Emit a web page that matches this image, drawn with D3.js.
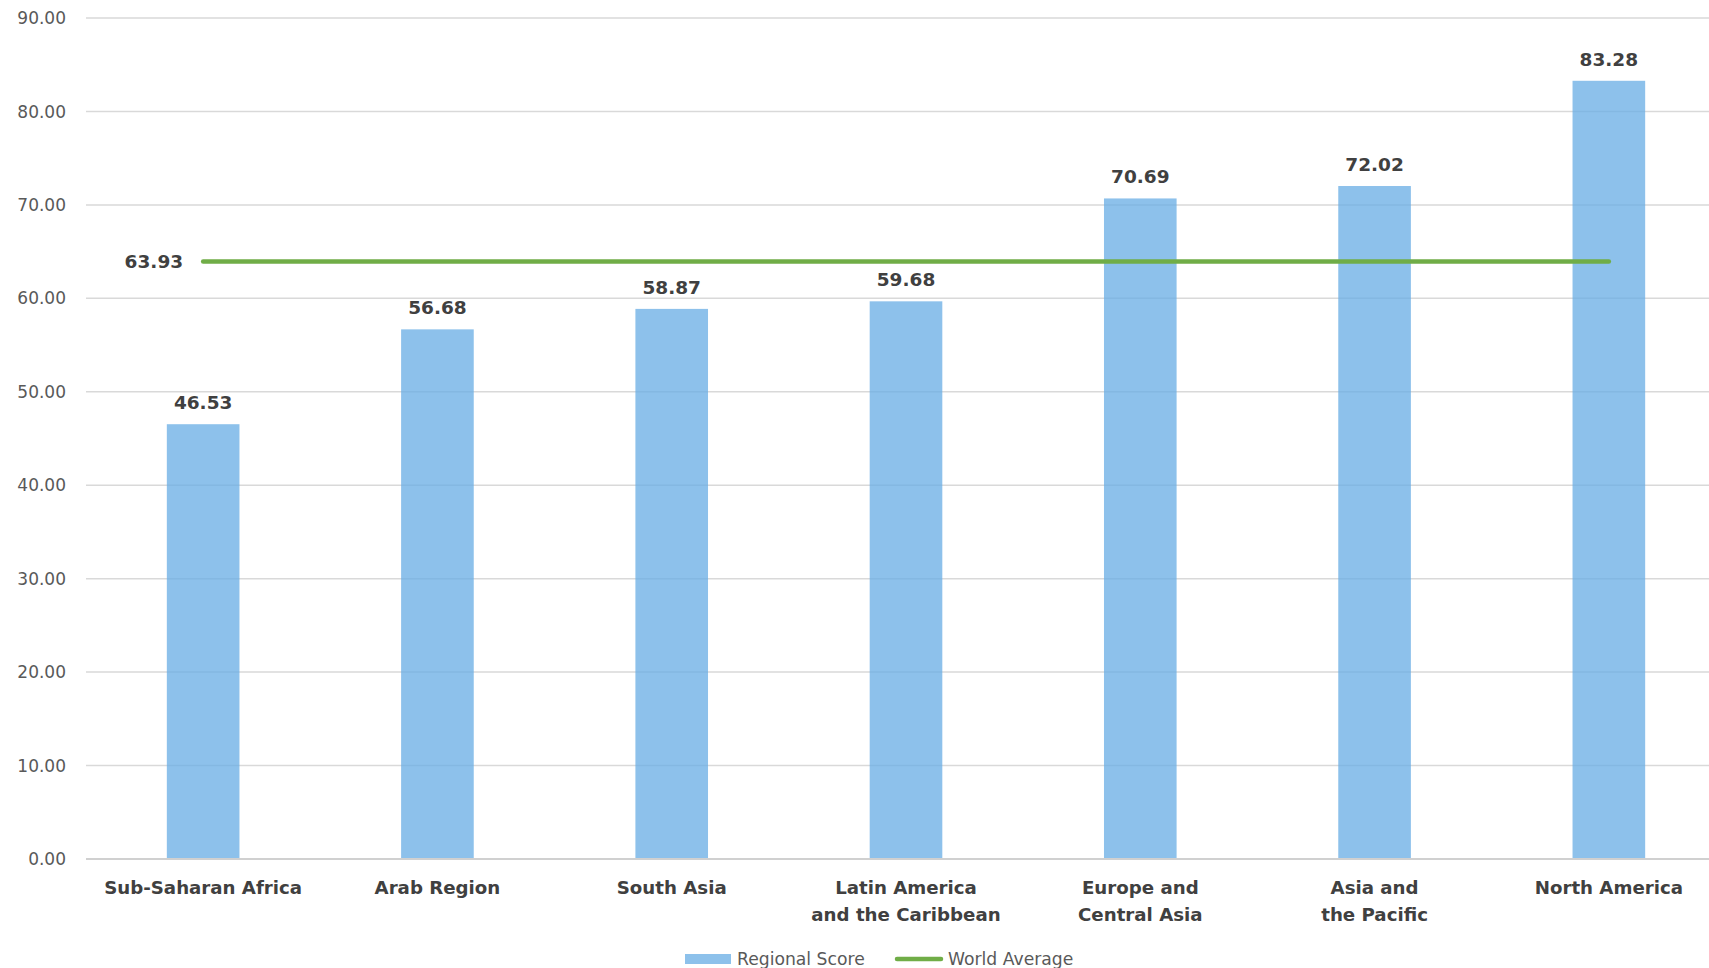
<!DOCTYPE html>
<html><head><meta charset="utf-8">
<script src="https://cdn.jsdelivr.net/npm/d3@7"></script>
<style>
html,body{margin:0;padding:0;background:#fff;overflow:hidden}
svg{display:block;font-family:"DejaVu Sans",Verdana,sans-serif}
</style></head>
<body>
<svg id="chart" width="1709" height="968"></svg>
<script>
const categories = [
  ["Sub-Saharan Africa"],
  ["Arab Region"],
  ["South Asia"],
  ["Latin America", "and the Caribbean"],
  ["Europe and", "Central Asia"],
  ["Asia and", "the Pacific"],
  ["North America"]
];
const regionalScore = [46.53, 56.68, 58.87, 59.68, 70.69, 72.02, 83.28];
const worldAverage = 63.93;
const yTicks = [0, 10, 20, 30, 40, 50, 60, 70, 80, 90];
const legendLabels = ["Regional Score", "World Average"];

const svg = d3.select("#chart");
const keys = categories.map(c => c.join(" "));
const x = d3.scaleBand().domain(keys).range([86, 1726]).paddingInner(0.69).paddingOuter(0.345);
const y = d3.scaleLinear().domain([0, 90]).range([859, 18]);

// gridlines
svg.append("g").selectAll("line").data(yTicks.filter(d => d > 0)).join("line")
  .attr("x1", 86).attr("x2", 1709)
  .attr("y1", d => y(d)).attr("y2", d => y(d))
  .attr("stroke", "#d9d9d9").attr("stroke-width", 1.5);

// y tick labels
svg.append("g").selectAll("text").data(yTicks).join("text")
  .attr("x", 66).attr("y", d => y(d)).attr("dy", "0.36em")
  .attr("text-anchor", "end").attr("fill", "#595959")
  .attr("font-size", "17px")
  .text(d => d3.format(".2f")(d));

// bars
svg.append("g").selectAll("rect").data(regionalScore).join("rect")
  .attr("x", (d, i) => x(keys[i])).attr("width", x.bandwidth())
  .attr("y", d => y(d)).attr("height", d => y(0) - y(d))
  .attr("fill", "#67ace4").attr("fill-opacity", 0.75);

// axis baseline
svg.append("line").attr("x1", 86).attr("x2", 1709).attr("y1", y(0)).attr("y2", y(0))
  .attr("stroke", "#d0d0d0").attr("stroke-width", 2);

// value labels
svg.append("g").selectAll("text").data(regionalScore).join("text")
  .attr("x", (d, i) => x(keys[i]) + x.bandwidth() / 2)
  .attr("y", d => y(d) - 15)
  .attr("text-anchor", "middle").attr("fill", "#404040")
  .attr("font-size", "18.5px").attr("font-weight", "bold")
  .text(d => d3.format(".2f")(d));

// world average line
const cx0 = x(keys[0]) + x.bandwidth() / 2;
const cx1 = x(keys[keys.length - 1]) + x.bandwidth() / 2;
svg.append("line").attr("x1", cx0).attr("x2", cx1)
  .attr("y1", y(worldAverage)).attr("y2", y(worldAverage))
  .attr("stroke", "#70ad47").attr("stroke-width", 4.5).attr("stroke-linecap", "round");
svg.append("text").attr("x", cx0 - 20).attr("y", y(worldAverage)).attr("dy", "0.36em")
  .attr("text-anchor", "end").attr("fill", "#404040")
  .attr("font-size", "18.5px").attr("font-weight", "bold")
  .text(d3.format(".2f")(worldAverage));

// category labels
const cat = svg.append("g").selectAll("text").data(categories).join("text")
  .attr("x", (d, i) => x(keys[i]) + x.bandwidth() / 2)
  .attr("y", 894)
  .attr("text-anchor", "middle").attr("fill", "#404040")
  .attr("font-size", "18.2px").attr("font-weight", "bold");
cat.selectAll("tspan").data(d => d).join("tspan")
  .attr("x", function() { return d3.select(this.parentNode).attr("x"); })
  .attr("dy", (d, i) => i === 0 ? 0 : 27)
  .text(d => d);

// legend
const lg = svg.append("g").attr("font-size", "17.2px").attr("fill", "#595959");
lg.append("rect").attr("x", 685).attr("y", 954).attr("width", 46).attr("height", 10)
  .attr("fill", "#67ace4").attr("fill-opacity", 0.75);
lg.append("text").attr("x", 737).attr("y", 965).text(legendLabels[0]);
lg.append("line").attr("x1", 897).attr("x2", 941).attr("y1", 959).attr("y2", 959)
  .attr("stroke", "#70ad47").attr("stroke-width", 4.5).attr("stroke-linecap", "round");
lg.append("text").attr("x", 948).attr("y", 965).text(legendLabels[1]);
</script>
</body></html>
